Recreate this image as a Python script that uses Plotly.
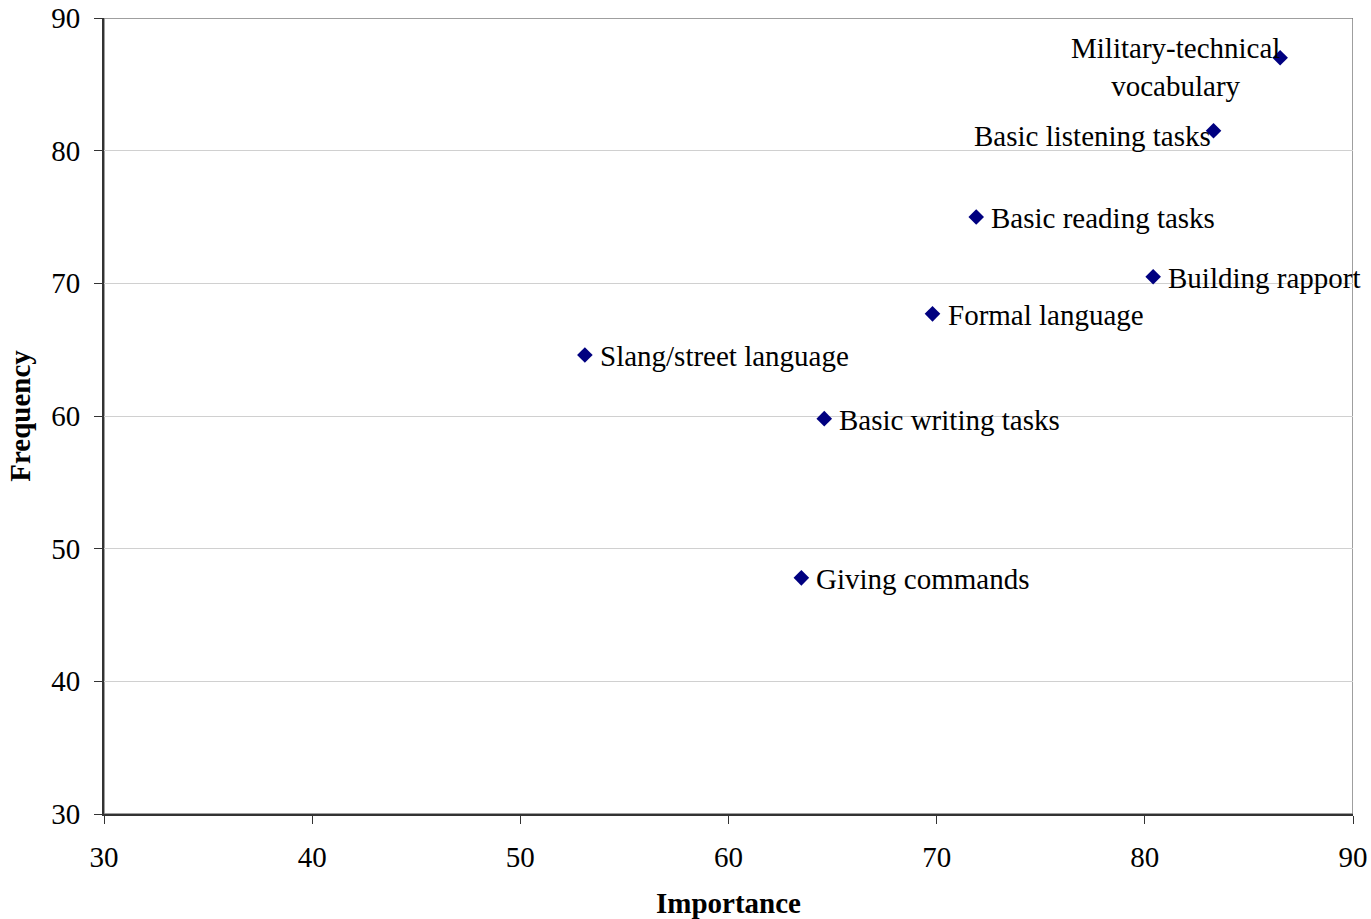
import plotly.graph_objects as go

labels = ["Military-technical<br>vocabulary", "Basic listening tasks", "Basic reading tasks",
          "Building rapport", "Formal language", "Slang/street language",
          "Basic writing tasks", "Giving commands"]
importance = [86.5, 83.3, 71.9, 80.4, 69.8, 53.1, 64.6, 63.5]
frequency = [87.0, 81.5, 75.0, 70.5, 67.7, 64.6, 59.8, 47.8]

FONT = "Liberation Serif, Times New Roman, serif"
FS = 29

fig = go.Figure()
fig.add_trace(go.Scatter(
    x=importance, y=frequency, mode="markers",
    marker=dict(symbol="diamond", size=12, color="#000080"),
    showlegend=False, hoverinfo="skip", cliponaxis=False))

for lab, xv, yv in zip(labels, importance, frequency):
    if lab.startswith("Military"):
        fig.add_annotation(x=xv, y=yv, text=lab, showarrow=False, xanchor="right",
                           align="center", xshift=2, yshift=-9,
                           font=dict(family=FONT, size=FS, color="black"))
    elif lab.startswith("Basic listening"):
        fig.add_annotation(x=xv, y=yv, text=lab, showarrow=False, xanchor="right",
                           xshift=-1, yshift=-5,
                           font=dict(family=FONT, size=FS, color="black"))
    else:
        fig.add_annotation(x=xv, y=yv, text=lab, showarrow=False, xanchor="left",
                           xshift=13, yshift=-1,
                           font=dict(family=FONT, size=FS, color="black"))

# gray plot-area border (top/right)
fig.add_shape(type="rect", xref="x", yref="y", x0=30, x1=90, y0=30, y1=90,
              line=dict(color="#808080", width=1.5), layer="below")

fig.update_layout(
    width=1371, height=919,
    margin=dict(l=104, r=18, t=18, b=105, autoexpand=False),
    paper_bgcolor="white", plot_bgcolor="white",
    font=dict(family=FONT, size=FS, color="black"),
    xaxis=dict(range=[30, 90], dtick=10, tick0=30, showgrid=False, zeroline=False,
               showline=True, linecolor="#333333", linewidth=2, automargin=False,
               ticks="outside", ticklen=8, tickcolor="#333333", ticklabelstandoff=8,
               title=dict(text="<b>Importance</b>", font=dict(size=FS), standoff=22),
               tickfont=dict(size=FS)),
    yaxis=dict(range=[30, 90], dtick=10, tick0=30, showgrid=True, gridcolor="#d0d0d0",
               gridwidth=1, zeroline=False, automargin=False,
               showline=True, linecolor="#333333", linewidth=2,
               ticks="outside", ticklen=8, tickcolor="#333333", ticklabelstandoff=8,
               title=dict(text="<b>Frequency</b>", font=dict(size=FS), standoff=12),
               tickfont=dict(size=FS)),
)

fig.write_html("out.html")
